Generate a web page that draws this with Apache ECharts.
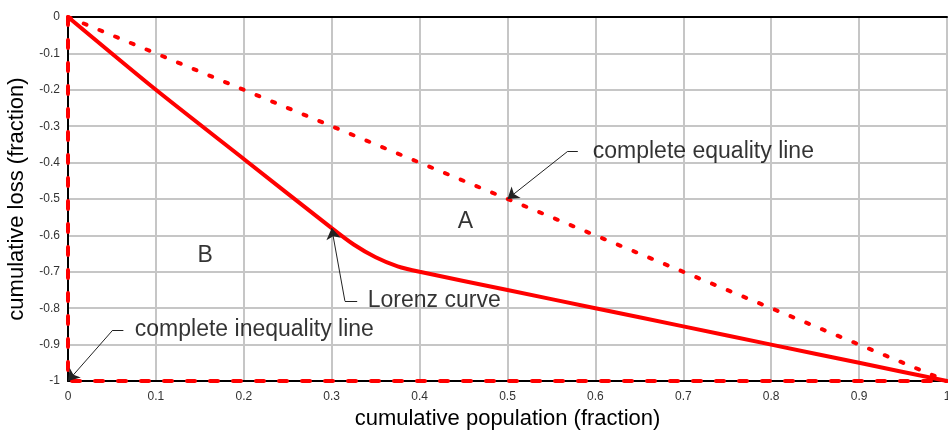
<!DOCTYPE html>
<html><head><meta charset="utf-8">
<script src="https://cdn.jsdelivr.net/npm/echarts@6/dist/echarts.min.js"></script>
<style>html,body{margin:0;padding:0;background:#fff}#c{width:948px;height:430px}</style>
</head><body><div id="c"></div>
<script>
// Lorenz curve
var lorenzX = [0, 0.1, 0.2, 0.3, 0.325, 0.35, 0.375, 0.4, 0.5, 0.6, 0.7, 0.8, 0.9, 1.0];
var lorenzY = [0, -0.2, -0.39, -0.58, -0.625, -0.66, -0.685, -0.70, -0.75, -0.80, -0.85, -0.90, -0.95, -1.0];
// complete equality line
var equalityX = [0, 1];
var equalityY = [0, -1];
// complete inequality line
var inequalityX = [0, 0, 1];
var inequalityY = [0, -1, -1];
// tick labels
var xTicks = ['0','0.1','0.2','0.3','0.4','0.5','0.6','0.7','0.8','0.9','1'];
var yTicks = ['0','-0.1','-0.2','-0.3','-0.4','-0.5','-0.6','-0.7','-0.8','-0.9','-1'];
// annotation texts: [text, x, y]
var labelTexts = ['complete equality line', 'Lorenz curve', 'complete inequality line', 'A', 'B'];
var labelX = [0.597, 0.341, 0.076, 0.452, 0.156];
var labelY = [-0.37, -0.778, -0.86, -0.563, -0.657];
var labelAlign = ['left', 'left', 'left', 'center', 'center'];
// annotation arrows: elbow start, elbow corner, tip
var arrowStartX = [0.58, 0.329, 0.063];
var arrowStartY = [-0.37, -0.78, -0.86];
var arrowCornerX = [0.568, 0.315, 0.051];
var arrowCornerY = [-0.37, -0.78, -0.86];
var arrowTipX = [0.5, 0.3, 0.0];
var arrowTipY = [-0.5, -0.58, -1.0];

function zip(xs, ys){ return xs.map(function(x,i){ return [x, ys[i]]; }); }

var FONT = 'Liberation Sans, Arial, sans-serif';
var chart = echarts.init(document.getElementById('c'));

var segs = [], heads = [];
for (var i = 0; i < arrowTipX.length; i++) {
  segs.push({coords: [[arrowStartX[i], arrowStartY[i]], [arrowCornerX[i], arrowCornerY[i]]]});
  heads.push({coords: [[arrowCornerX[i], arrowCornerY[i]], [arrowTipX[i], arrowTipY[i]]]});
}

chart.setOption({
  animation: false,
  backgroundColor: '#fff',
  grid: {left: 68, right: 1, top: 17, bottom: 49, outerBoundsMode: 'none', containLabel: false},
  xAxis: [{
    type: 'value', min: 0, max: 1, interval: 0.1,
    name: 'cumulative population (fraction)', nameLocation: 'middle', nameGap: 21,
    nameTextStyle: {fontSize: 22, color: '#000', fontFamily: FONT},
    axisLine: {show: true, onZero: false, lineStyle: {color: '#000', width: 2}},
    axisTick: {show: false},
    axisLabel: {margin: 10, fontSize: 12, color: '#333', fontFamily: FONT,
      formatter: function(v){ return xTicks[Math.round(v*10)]; }},
    splitLine: {show: true, lineStyle: {color: '#c6c6c6', width: 2}}
  }, {
    type: 'value', position: 'top', min: 0, max: 1,
    axisLine: {show: true, onZero: false, lineStyle: {color: '#000', width: 2}},
    axisTick: {show: false}, axisLabel: {show: false}, splitLine: {show: false}
  }],
  yAxis: {
    type: 'value', min: -1, max: 0, interval: 0.1,
    name: 'cumulative loss (fraction)', nameLocation: 'middle', nameGap: 37,
    nameTextStyle: {fontSize: 22, color: '#000', fontFamily: FONT},
    axisLine: {show: true, onZero: false, lineStyle: {color: '#000', width: 2}},
    axisTick: {show: false},
    axisLabel: {margin: 8, fontSize: 12, color: '#333', fontFamily: FONT,
      formatter: function(v){ return yTicks[Math.round(-v*10)]; }},
    splitLine: {show: true, lineStyle: {color: '#c6c6c6', width: 2}}
  },
  series: [{
    type: 'line', data: zip(inequalityX, inequalityY), symbol: 'none',
    lineStyle: {color: '#ff0000', width: 4, type: [8, 15], cap: 'round'}, z: 3
  }, {
    type: 'line', data: zip(equalityX, equalityY), symbol: 'none',
    lineStyle: {color: '#ff0000', width: 4, type: [3, 14], cap: 'round'}, z: 3
  }, {
    type: 'line', data: zip(lorenzX, lorenzY), symbol: 'none', smooth: 0.25,
    lineStyle: {color: '#ff0000', width: 4}, z: 4
  }, {
    type: 'lines', coordinateSystem: 'cartesian2d', data: segs, symbol: 'none',
    lineStyle: {color: '#222', width: 1, opacity: 1}, z: 5
  }, {
    type: 'lines', coordinateSystem: 'cartesian2d', data: heads,
    symbol: ['none', 'arrow'], symbolSize: [0, 11],
    lineStyle: {color: '#222', width: 1, opacity: 1}, itemStyle: {color: '#000'}, z: 5
  }, {
    type: 'scatter', symbolSize: 0, z: 6,
    data: labelTexts.map(function(t, i){
      return {value: [labelX[i], labelY[i]],
        label: {show: true, formatter: t, position: 'inside', align: labelAlign[i],
          verticalAlign: 'middle', fontSize: 23, color: '#000', fontFamily: FONT}};
    })
  }]
});
</script>
</body></html>
